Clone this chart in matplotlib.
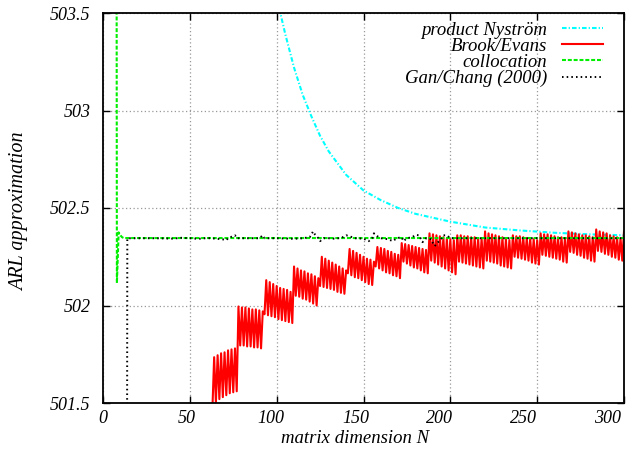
import matplotlib
matplotlib.use("Agg")
import matplotlib.pyplot as plt
import matplotlib.transforms as mtrans

# ---------------- data ----------------
nystrom_n = [100, 105, 110, 115, 120, 125, 130, 140, 150, 160, 170, 180, 190,
             200, 220, 240, 260, 280, 300]
nystrom_v = [503.58, 503.39, 503.22, 503.08, 502.97, 502.87, 502.79, 502.67,
             502.59, 502.54, 502.50, 502.47, 502.45, 502.43, 502.40, 502.385,
             502.373, 502.365, 502.36]

brook_n = list(range(63, 301))
brook_v = [
    # 63-77
    501.47, 501.735, 501.50, 501.745, 501.52, 501.755, 501.53, 501.76, 501.54,
    501.77, 501.55, 501.775, 501.555, 501.78, 501.56,
    # 78-92
    501.995, 501.795, 501.99, 501.795, 501.99, 501.79, 501.985, 501.79, 501.98,
    501.785, 501.98, 501.785, 501.975, 501.78, 501.97,
    # 93-109
    501.955, 502.13, 501.95, 502.12, 501.945, 502.11, 501.94, 502.10, 501.93,
    502.09, 501.925, 502.085, 501.92, 502.08, 501.915, 502.07, 501.91,
    # 110-124
    502.20, 502.05, 502.19, 502.045, 502.18, 502.035, 502.175, 502.03, 502.165,
    502.02, 502.16, 502.01, 502.15, 502.0, 502.14,
    # 125-140
    502.10, 502.25, 502.095, 502.24, 502.09, 502.23, 502.085, 502.22, 502.08,
    502.21, 502.07, 502.20, 502.065, 502.19, 502.06, 502.18,
    # 141-156
    502.165, 502.29, 502.155, 502.28, 502.145, 502.27, 502.14, 502.26, 502.13,
    502.25, 502.12, 502.24, 502.11, 502.235, 502.105, 502.225,
    # 157-171
    502.20, 502.30, 502.19, 502.295, 502.18, 502.29, 502.17, 502.28, 502.165,
    502.275, 502.155, 502.265, 502.15, 502.26, 502.14,
    # 172-187
    502.32, 502.225, 502.315, 502.215, 502.31, 502.205, 502.305, 502.195,
    502.30, 502.19, 502.295, 502.18, 502.29, 502.17, 502.285, 502.165,
    # 188-203
    502.37, 502.23, 502.365, 502.22, 502.36, 502.21, 502.355, 502.20, 502.35,
    502.19, 502.345, 502.18, 502.34, 502.17, 502.335, 502.16,
    # 204-219
    502.36, 502.225, 502.36, 502.22, 502.355, 502.215, 502.355, 502.21, 502.35,
    502.205, 502.35, 502.20, 502.345, 502.195, 502.345, 502.19,
    # 220-235
    502.38, 502.23, 502.37, 502.225, 502.365, 502.22, 502.36, 502.215, 502.355,
    502.205, 502.35, 502.20, 502.34, 502.195, 502.335, 502.19,
    # 236-251
    502.36, 502.25, 502.355, 502.245, 502.355, 502.24, 502.35, 502.235, 502.345,
    502.23, 502.345, 502.22, 502.34, 502.215, 502.335, 502.21,
    # 252-267
    502.37, 502.26, 502.365, 502.255, 502.365, 502.25, 502.36, 502.245, 502.355,
    502.24, 502.35, 502.235, 502.35, 502.225, 502.345, 502.22,
    # 268-283
    502.38, 502.275, 502.375, 502.27, 502.37, 502.26, 502.365, 502.255, 502.36,
    502.245, 502.36, 502.24, 502.355, 502.23, 502.35, 502.225,
    # 284-299
    502.39, 502.28, 502.38, 502.275, 502.375, 502.265, 502.37, 502.26, 502.36,
    502.25, 502.355, 502.245, 502.35, 502.235, 502.345, 502.23,
    # 300
    502.38,
]

colloc_n = [6, 7, 8, 9, 10, 11, 12, 20, 30, 40, 50, 60, 70, 80, 90, 100, 120,
            140, 160, 180, 200, 220, 240, 260, 280, 300]
colloc_v = [515.0, 512.0, 502.115, 502.375, 502.36, 502.35, 502.346, 502.346,
            502.346, 502.346, 502.346, 502.346, 502.346, 502.346, 502.346,
            502.346, 502.346, 502.346, 502.346, 502.346, 502.346, 502.346,
            502.346, 502.346, 502.346, 502.346]

gan_n = [13, 14, 20, 30, 40, 45, 50, 55, 60, 65, 70, 71, 72, 76, 77, 85, 90,
         92, 93, 100, 110, 115, 119, 121, 122, 124, 125, 127, 130, 134, 138,
         140, 142, 145, 150, 153, 155, 156, 158, 160, 164, 167, 169, 172, 173,
         175, 178, 180, 182, 184, 186, 189, 190, 191, 193, 195, 196, 198, 200,
         210, 220, 230, 240, 250, 260, 270, 280, 290, 300]
gan_v = [495.0, 502.345, 502.345, 502.345, 502.343, 502.347, 502.345, 502.342,
         502.346, 502.343, 502.338, 502.335, 502.345, 502.36, 502.345, 502.345,
         502.345, 502.36, 502.345, 502.345, 502.342, 502.345, 502.35, 502.38,
         502.365, 502.345, 502.33, 502.345, 502.345, 502.342, 502.35, 502.36,
         502.355, 502.345, 502.343, 502.33, 502.345, 502.37, 502.355, 502.345,
         502.34, 502.33, 502.345, 502.35, 502.33, 502.345, 502.35, 502.362,
         502.36, 502.325, 502.345, 502.34, 502.32, 502.305, 502.325, 502.345,
         502.36, 502.36, 502.345, 502.345, 502.345, 502.345, 502.345, 502.345,
         502.345, 502.345, 502.345, 502.345, 502.345]

labels = ["product Nyström", "Brook/Evans", "collocation", "Gan/Chang (2000)"]
xticks = [0, 50, 100, 150, 200, 250, 300]
yticks = [501.5, 502, 502.5, 503, 503.5]
xtick_labels = ["0", "50", "100", "150", "200", "250", "300"]
ytick_labels = ["501.5", "502", "502.5", "503", "503.5"]

# ---------------- style ----------------
plt.rcParams["font.family"] = ["Liberation Serif", "DejaVu Serif"]
plt.rcParams["font.style"] = "italic"
FS = 13

fig = plt.figure(figsize=(6.41, 4.5), dpi=100)
ax = fig.add_axes([103 / 641, 1 - 403 / 450, (624 - 103) / 641, (403 - 13) / 450])

ax.plot(nystrom_n, nystrom_v, color="#00ffff", lw=1.5,
        linestyle=(0, (2.2, 1.0, 0.6, 1.0)), label=labels[0])
ax.plot(brook_n, brook_v, color="#ff0000", lw=1.5, label=labels[1])
ax.plot(colloc_n, colloc_v, color="#00ee00", lw=1.5,
        linestyle=(0, (1.9, 0.9)), label=labels[2])
ax.plot(gan_n, gan_v, color="black", lw=1.4,
        linestyle=(0, (0.8, 1.6)), label=labels[3])

ax.set_xlim(0, 300)
ax.set_ylim(501.5, 503.5)
ax.set_xticks(xticks)
ax.set_xticklabels(xtick_labels, fontsize=FS, style="italic")
ax.set_yticks(yticks)
ax.set_yticklabels(ytick_labels, fontsize=FS, style="italic")
ax.tick_params(direction="in", length=5, width=1, top=True, right=True)
ax.tick_params(axis="x", pad=5)
ax.tick_params(axis="y", pad=9)

ax.grid(True, color="#999999", linestyle=(0, (1, 2)), linewidth=0.9)
for sp in ax.spines.values():
    sp.set_linewidth(1.3)

# gnuplot places x tick labels slightly compressed toward the origin
for t, v in zip(ax.xaxis.get_major_ticks(), xticks):
    off = mtrans.ScaledTranslation(-16 * v / 300 / 100, 0, fig.dpi_scale_trans)
    t.label1.set_transform(t.label1.get_transform() + off)

ax.set_xlabel("matrix dimension N", fontsize=13.5, style="italic")
ax.xaxis.set_label_coords(0.484, -0.07)
ax.set_ylabel("ARL approximation", fontsize=14.5, style="italic")
ax.yaxis.set_label_coords(-0.142, 0.49)

leg = ax.legend(loc="upper right", frameon=False, markerfirst=False,
                handlelength=2.2, handletextpad=0.8,
                labelspacing=-0.05, borderaxespad=0.3,
                bbox_to_anchor=(0.985, 1.012),
                prop={"style": "italic", "size": 13.5})

fig.savefig("out.png", dpi=100)
